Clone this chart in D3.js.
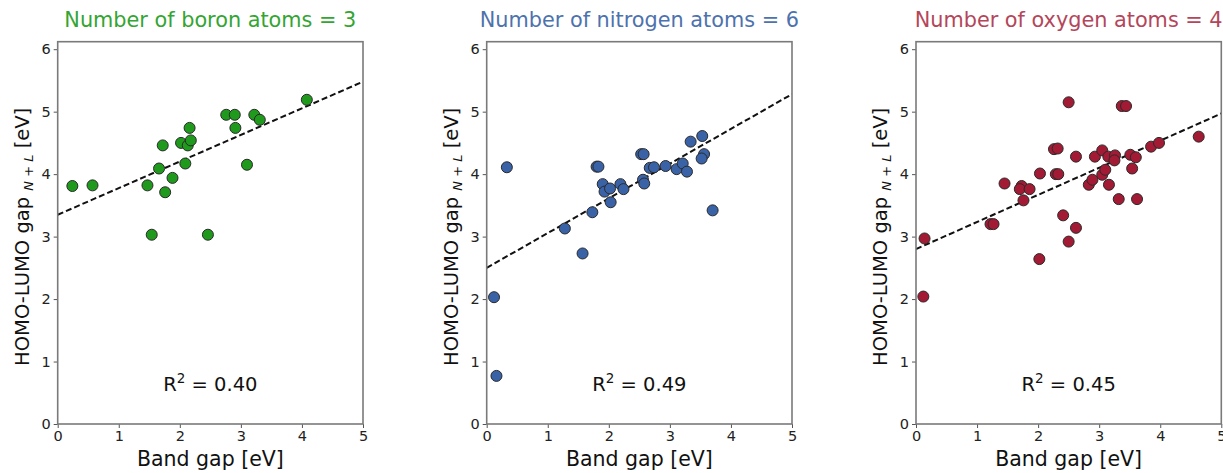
<!DOCTYPE html>
<html>
<head>
<meta charset="utf-8">
<script src="https://cdn.jsdelivr.net/npm/d3@7"></script>
<style>
  body { margin: 0; background: #fff; }
  svg { display: block; font-family: "DejaVu Sans", sans-serif; }
</style>
</head>
<body>
<svg id="chart" width="1223" height="473"></svg>
<script>
// panel titles and colours
var titles = ['Number of boron atoms = 3', 'Number of nitrogen atoms = 6', 'Number of oxygen atoms = 4'];
var titleColors = ['#33a532', '#4d72ad', '#b3465a'];
var markerColors = ['#1f9a1c', '#3a62a6', '#a31a34'];
var r2Values = ['0.40', '0.49', '0.45'];

// dashed fit lines: [intercept, slope]
var fitLines = [[3.35, 0.426], [2.50, 0.556], [2.80, 0.434]];

var xTicks = [0, 1, 2, 3, 4, 5];
var yTicks = [0, 1, 2, 3, 4, 5, 6];

// band gap (x) and HOMO-LUMO gap (y)
var boronX = [0.24, 0.57, 1.47, 1.54, 1.66, 1.72, 1.76, 1.88, 2.02, 2.09, 2.13, 2.18, 2.16, 2.46, 2.76, 2.90, 2.91, 3.10, 3.22, 3.31, 4.08];
var boronY = [3.81, 3.82, 3.82, 3.03, 4.09, 4.46, 3.71, 3.94, 4.50, 4.17, 4.46, 4.54, 4.74, 3.03, 4.95, 4.95, 4.74, 4.15, 4.95, 4.87, 5.19];

var nitrogenX = [0.33, 0.12, 0.16, 1.28, 1.57, 1.73, 1.80, 1.83, 1.90, 1.93, 2.02, 2.03, 2.19, 2.24, 2.53, 2.57, 2.56, 2.58, 2.67, 2.74, 2.93, 3.11, 3.21, 3.28, 3.34, 3.53, 3.56, 3.52, 3.70];
var nitrogenY = [4.11, 2.03, 0.77, 3.13, 2.73, 3.39, 4.12, 4.12, 3.84, 3.72, 3.77, 3.55, 3.84, 3.76, 4.32, 4.32, 3.91, 3.85, 4.10, 4.11, 4.13, 4.08, 4.17, 4.04, 4.52, 4.61, 4.32, 4.25, 3.42];

var oxygenX = [0.14, 0.12, 1.22, 1.27, 1.45, 1.73, 1.70, 1.86, 1.76, 2.02, 2.03, 2.26, 2.32, 2.29, 2.33, 2.41, 2.50, 2.50, 2.62, 2.62, 2.83, 2.89, 2.93, 3.05, 3.05, 3.10, 3.16, 3.15, 3.26, 3.25, 3.32, 3.37, 3.44, 3.51, 3.60, 3.54, 3.62, 3.85, 3.98, 4.63];
var oxygenY = [2.97, 2.04, 3.20, 3.20, 3.85, 3.81, 3.76, 3.76, 3.58, 2.64, 4.01, 4.40, 4.41, 4.00, 4.00, 3.34, 5.15, 2.92, 4.28, 3.14, 3.83, 3.91, 4.28, 4.38, 3.99, 4.07, 3.83, 4.28, 4.30, 4.22, 3.60, 5.09, 5.09, 4.31, 4.27, 4.09, 3.60, 4.44, 4.50, 4.60];

var seriesX = [boronX, nitrogenX, oxygenX];
var seriesY = [boronY, nitrogenY, oxygenY];

var svg = d3.select('#chart');

var panelLeft = [57.7, 486.7, 916],
    panelWidth = 305.3,
    panelTop = 41.7,
    panelBottom = 424;

for (var i = 0; i < 3; i++) {
    drawPanel(i);
}

function drawPanel(i) {
    var x = d3.scaleLinear().domain([0, 5]).range([0, panelWidth]);
    var y = d3.scaleLinear().domain([0, 6.12]).range([panelBottom - panelTop, 0]);
    var h = panelBottom - panelTop;

    var g = svg.append('g')
        .attr('transform', 'translate(' + panelLeft[i] + ',' + panelTop + ')');

    // title
    g.append('text')
        .attr('x', panelWidth / 2)
        .attr('y', -14.5)
        .attr('text-anchor', 'middle')
        .attr('fill', titleColors[i])
        .style('font-size', '20.8px')
        .text(titles[i]);

    // axes
    var xAxis = g.append('g')
        .attr('transform', 'translate(0,' + h + ')')
        .call(d3.axisBottom(x).tickValues(xTicks).tickFormat(d3.format('d')).tickSize(4).tickPadding(3));
    var yAxis = g.append('g')
        .call(d3.axisLeft(y).tickValues(yTicks).tickFormat(d3.format('d')).tickSize(4).tickPadding(3));
    [xAxis, yAxis].forEach(function (a) {
        a.select('.domain').remove();
        a.selectAll('line').attr('stroke', '#555');
        a.selectAll('text').attr('fill', '#222').style('font-size', '14.5px').style('font-family', '"DejaVu Sans", sans-serif');
    });

    // clip for the marks
    var clipId = 'clip' + i;
    g.append('clipPath').attr('id', clipId)
        .append('rect').attr('width', panelWidth).attr('height', h);

    var marks = g.append('g').attr('clip-path', 'url(#' + clipId + ')');

    // fit line
    var fit = fitLines[i];
    marks.append('line')
        .attr('x1', x(0)).attr('y1', y(fit[0]))
        .attr('x2', x(5)).attr('y2', y(fit[0] + fit[1] * 5))
        .attr('stroke', '#111')
        .attr('stroke-width', 2)
        .attr('stroke-dasharray', '6,3');

    // points
    var pts = seriesX[i].map(function (d, k) { return [d, seriesY[i][k]]; });
    marks.selectAll('circle')
        .data(pts)
        .enter()
        .append('circle')
        .attr('cx', function (d) { return x(d[0]); })
        .attr('cy', function (d) { return y(d[1]); })
        .attr('r', 5.5)
        .attr('fill', markerColors[i])
        .attr('stroke', '#2a2a2a')
        .attr('stroke-width', 1);

    // frame
    g.append('rect')
        .attr('width', panelWidth)
        .attr('height', h)
        .attr('fill', 'none')
        .attr('stroke', '#7a7a7a')
        .attr('stroke-width', 1.6);

    // R^2 label
    var r2 = g.append('text')
        .attr('x', panelWidth / 2)
        .attr('y', 391 - panelTop)
        .attr('text-anchor', 'middle')
        .attr('fill', '#111')
        .style('font-size', '19.5px');
    r2.append('tspan').text('R');
    r2.append('tspan').attr('dy', -8).style('font-size', '13.5px').text('2');
    r2.append('tspan').attr('dy', 8).text(' = ' + r2Values[i]);

    // x label
    g.append('text')
        .attr('x', panelWidth / 2)
        .attr('y', 466.5 - panelTop)
        .attr('text-anchor', 'middle')
        .attr('fill', '#111')
        .style('font-size', '20.5px')
        .text('Band gap [eV]');

    // y label
    var yl = g.append('text')
        .attr('transform', 'translate(' + (-29) + ',' + (h / 2 + 4) + ') rotate(-90)')
        .attr('text-anchor', 'middle')
        .attr('fill', '#111')
        .style('font-size', '19.5px');
    yl.append('tspan').text('HOMO-LUMO gap ');
    yl.append('tspan').attr('dy', 4).style('font-size', '13px').style('font-style', 'italic').text('N + L');
    yl.append('tspan').attr('dy', -4).text(' [eV]');
}
</script>
</body>
</html>
